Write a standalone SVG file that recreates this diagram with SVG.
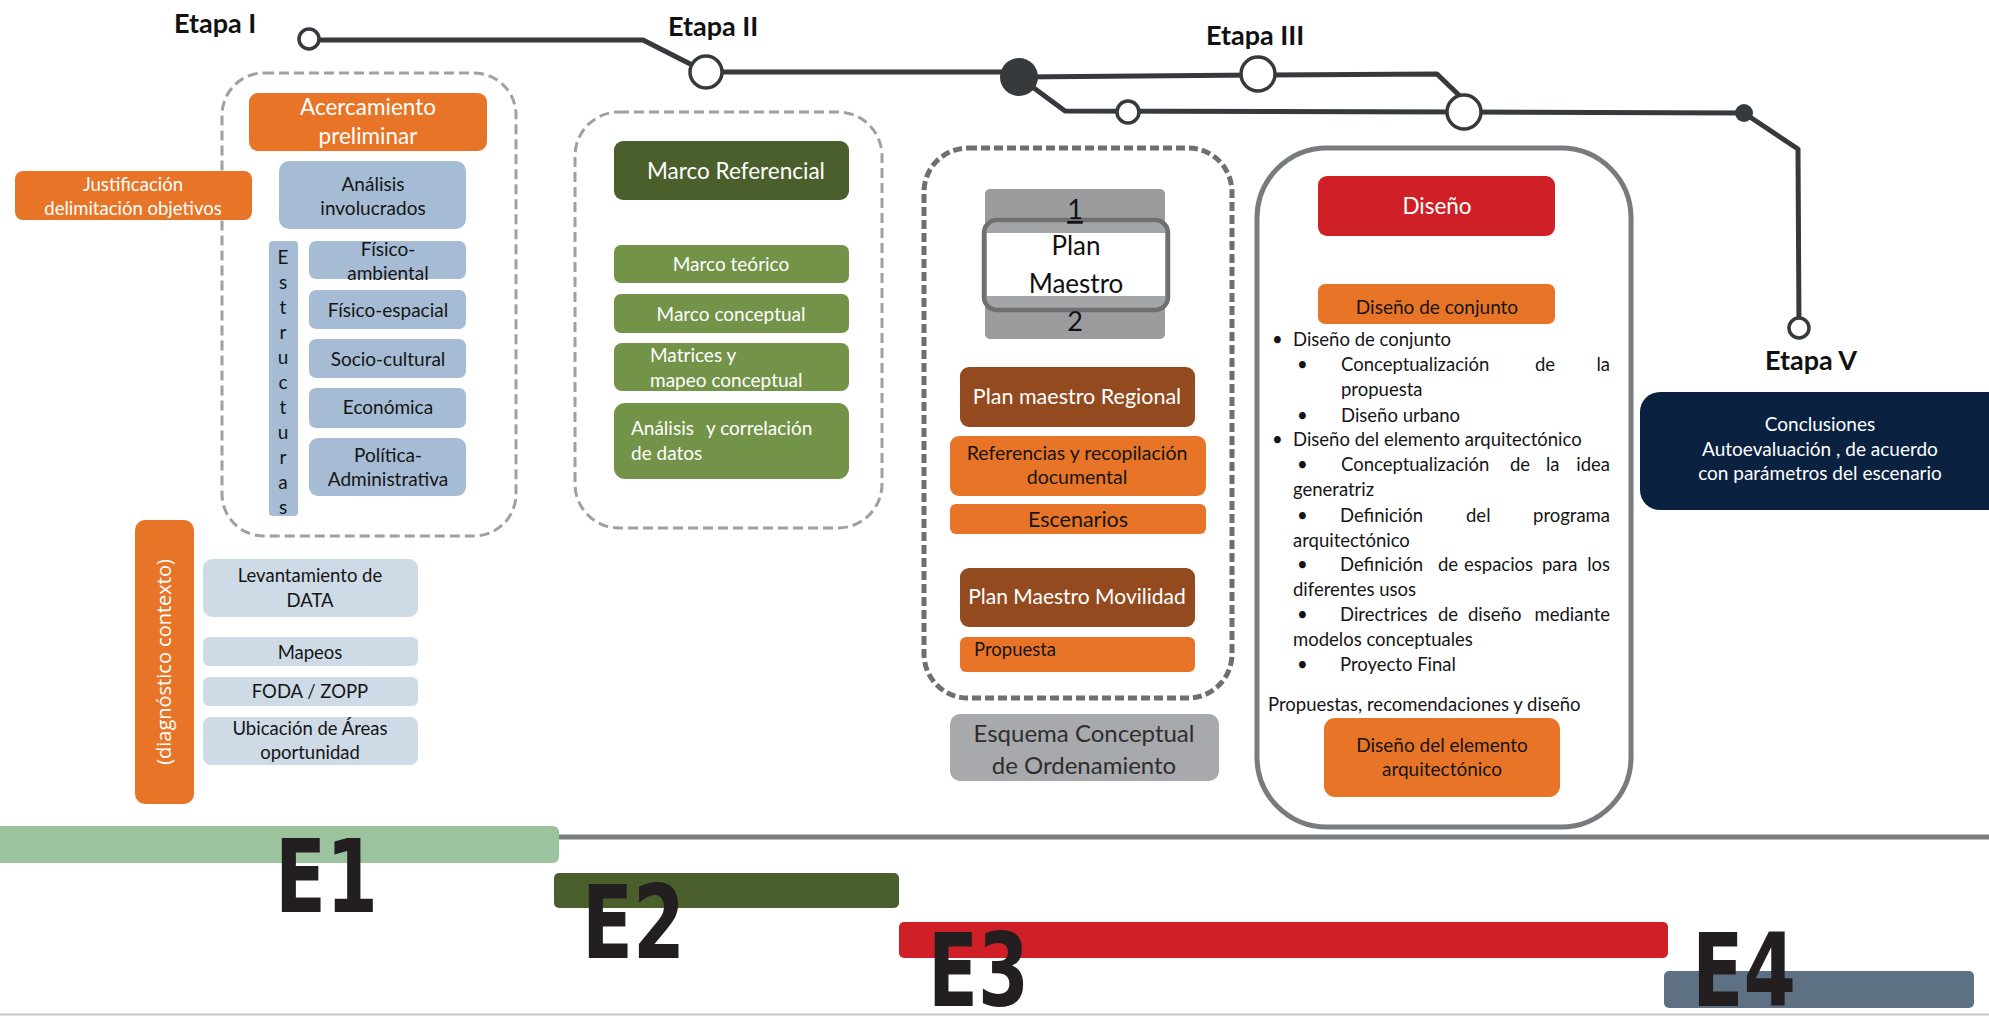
<svg xmlns="http://www.w3.org/2000/svg" width="1989" height="1016" viewBox="0 0 1989 1016">
  <defs>
    <style>
      .t { font-family: Lato, "Liberation Sans", sans-serif; }
      .c { text-anchor: middle; }
      .w { fill: #ffffff; }
      .k { fill: #151515; }
      .s19 { font-size: 19px; }
      .s18 { font-size: 18.5px; }
      .s22 { font-size: 22.5px; }
      .etapa { font-family: Lato, "Liberation Sans", sans-serif; font-weight: 700; font-size: 27px; fill: #111; }
      .big { font-family: "DejaVu Sans", "Liberation Sans", sans-serif; font-weight: 700; font-size: 102px; fill: #231f20; }
      .orange { fill: #e87427; }
      .lblue { fill: #a5bcd4; }
      .pblue { fill: #cedae6; }
      .olive { fill: #739348; }
      .brown { fill: #934a1f; }
      .track { fill: none; stroke: #373a3d; stroke-width: 5; stroke-linejoin: round; stroke-linecap: round; }
      .stop { fill: #ffffff; stroke: #373a3d; stroke-width: 3.5; }
      .hub { fill: #373a3d; }
      .dash { fill: none; stroke: #a0a0a0; stroke-width: 3; stroke-dasharray: 10 5; }
    </style>
  </defs>

  <!-- timeline bars and base rule -->
  <g id="timeline">
    <line x1="555" y1="837" x2="1989" y2="837" stroke="#7a7d80" stroke-width="5"/>
    <line x1="0" y1="1014.5" x2="1989" y2="1014.5" stroke="#c6c6c6" stroke-width="2"/>
    <rect x="-10" y="826" width="569" height="37" rx="6" fill="#9bc49e"/>
    <rect x="554" y="873" width="345" height="35" rx="5" fill="#4b5f2d"/>
    <rect x="899" y="922" width="769" height="36" rx="5" fill="#cf1f27"/>
    <rect x="1664" y="971" width="310" height="37" rx="5" fill="#5e7184"/>
    <text class="big" x="275" y="912" textLength="103" lengthAdjust="spacingAndGlyphs">E1</text>
    <text class="big" x="582" y="958" textLength="103" lengthAdjust="spacingAndGlyphs">E2</text>
    <text class="big" x="928" y="1006" textLength="101" lengthAdjust="spacingAndGlyphs">E3</text>
    <text class="big" x="1692" y="1006" textLength="104" lengthAdjust="spacingAndGlyphs">E4</text>
  </g>

  <!-- stage track -->
  <g id="connectors">
    <path class="track" d="M309 40 L643 40 L706 72 L1019 72"/>
    <path class="track" d="M1019 77 L1258 75 L1437 74 L1464 100"/>
    <path class="track" d="M1019 77 L1065 111 L1464 112 L1744 113 L1798 149 L1799 328"/>
  </g>

  <g id="stops">
    <circle class="stop" cx="309" cy="39" r="10"/>
    <circle class="stop" cx="706" cy="72" r="16"/>
    <circle class="hub" cx="1019" cy="77" r="19"/>
    <circle class="stop" cx="1128" cy="112" r="11"/>
    <circle class="stop" cx="1258" cy="74" r="17"/>
    <circle class="stop" cx="1464" cy="112" r="17"/>
    <circle class="hub" cx="1744" cy="113" r="9"/>
    <circle class="stop" cx="1799" cy="328" r="10"/>
  </g>

  <g id="etapa-labels">
    <text class="etapa" x="174" y="33">Etapa I</text>
    <text class="etapa" x="668" y="36">Etapa II</text>
    <text class="etapa" x="1206" y="45">Etapa III</text>
    <text class="etapa" x="1765" y="370">Etapa V</text>
  </g>

  <!-- Etapa I -->
  <g id="etapa1-frame">
    <rect class="dash" x="222" y="73" width="294" height="463" rx="42"/>
  </g>
  <g id="acercamiento">
    <rect class="orange" x="249" y="93" width="238" height="58" rx="9"/>
    <text class="t c w s22" x="368" y="115">Acercamiento</text>
    <text class="t c w s22" x="368" y="144">preliminar</text>
  </g>
  <g id="justificacion">
    <rect class="orange" x="15" y="171" width="237" height="49" rx="8"/>
    <text class="t c w s18" x="133" y="191">Justificación</text>
    <text class="t c w s18" x="133" y="215">delimitación objetivos</text>
  </g>
  <g id="analisis">
    <rect class="lblue" x="279" y="161" width="187" height="68" rx="10"/>
    <text class="t c k s19" x="373" y="191">Análisis</text>
    <text class="t c k s19" x="373" y="215">involucrados</text>
  </g>
  <g id="estructuras">
    <rect class="lblue" x="269" y="241" width="29" height="275" rx="4"/>
    <text class="t c k s19" x="283" y="264">E</text>
    <text class="t c k s19" x="283" y="289">s</text>
    <text class="t c k s19" x="283" y="314">t</text>
    <text class="t c k s19" x="283" y="339">r</text>
    <text class="t c k s19" x="283" y="364">u</text>
    <text class="t c k s19" x="283" y="389">c</text>
    <text class="t c k s19" x="283" y="414">t</text>
    <text class="t c k s19" x="283" y="439">u</text>
    <text class="t c k s19" x="283" y="464">r</text>
    <text class="t c k s19" x="283" y="489">a</text>
    <text class="t c k s19" x="283" y="514">s</text>
  </g>
  <g id="fisico-ambiental">
    <rect class="lblue" x="309" y="241" width="157" height="38" rx="7"/>
    <text class="t c k s19" x="388" y="256">Físico-</text>
    <text class="t c k s19" x="388" y="280">ambiental</text>
  </g>
  <g id="fisico-espacial">
    <rect class="lblue" x="309" y="290" width="157" height="39" rx="7"/>
    <text class="t c k s19" x="388" y="317">Físico-espacial</text>
  </g>
  <g id="socio-cultural">
    <rect class="lblue" x="309" y="339" width="157" height="39" rx="7"/>
    <text class="t c k s19" x="388" y="366">Socio-cultural</text>
  </g>
  <g id="economica">
    <rect class="lblue" x="309" y="388" width="157" height="40" rx="7"/>
    <text class="t c k s19" x="388" y="414">Económica</text>
  </g>
  <g id="politica">
    <rect class="lblue" x="309" y="438" width="157" height="58" rx="9"/>
    <text class="t c k s19" x="388" y="462">Política-</text>
    <text class="t c k s19" x="388" y="486">Administrativa</text>
  </g>

  <g id="diagnostico">
    <rect class="orange" x="135" y="520" width="59" height="284" rx="10"/>
    <text transform="translate(171 662) rotate(-90)" text-anchor="middle" font-family="'Open Sans', 'Noto Sans', sans-serif" font-size="20" fill="#ffffff">(diagnóstico contexto)</text>
  </g>
  <g id="levantamiento">
    <rect class="pblue" x="203" y="559" width="215" height="58" rx="9"/>
    <text class="t c k s18" x="310" y="582">Levantamiento de</text>
    <text class="t c k s18" x="310" y="607">DATA</text>
  </g>
  <g id="mapeos">
    <rect class="pblue" x="203" y="637" width="215" height="29" rx="6"/>
    <text class="t c k s18" x="310" y="659">Mapeos</text>
  </g>
  <g id="foda">
    <rect class="pblue" x="203" y="677" width="215" height="29" rx="6"/>
    <text class="t c k s18" x="310" y="698">FODA / ZOPP</text>
  </g>
  <g id="ubicacion">
    <rect class="pblue" x="203" y="717" width="215" height="48" rx="8"/>
    <text class="t c k s18" x="310" y="735">Ubicación de Áreas</text>
    <text class="t c k s18" x="310" y="759">oportunidad</text>
  </g>

  <!-- Etapa II -->
  <g id="etapa2-frame">
    <rect class="dash" x="575" y="112" width="307" height="416" rx="44"/>
  </g>
  <g id="marco-referencial">
    <rect x="614" y="141" width="235" height="59" rx="9" fill="#4b5f2d"/>
    <text class="t c w s22" x="736" y="179">Marco Referencial</text>
  </g>
  <g id="marco-teorico">
    <rect class="olive" x="614" y="245" width="235" height="38" rx="7"/>
    <text class="t c w s19" x="731" y="271">Marco teórico</text>
  </g>
  <g id="marco-conceptual">
    <rect class="olive" x="614" y="294" width="235" height="39" rx="7"/>
    <text class="t c w s19" x="731" y="321">Marco conceptual</text>
  </g>
  <g id="matrices">
    <rect class="olive" x="614" y="343" width="235" height="48" rx="8"/>
    <text class="t w s19" x="650" y="362">Matrices y</text>
    <text class="t w s19" x="650" y="387">mapeo conceptual</text>
  </g>
  <g id="analisis-datos">
    <rect class="olive" x="614" y="403" width="235" height="76" rx="11"/>
    <text class="t w s19" x="631" y="435">Análisis</text>
    <text class="t w s19" x="706" y="435">y correlación</text>
    <text class="t w s19" x="631" y="460">de datos</text>
  </g>

  <!-- Plan Maestro block -->
  <g id="etapa3-frame">
    <rect x="924" y="148" width="308" height="550" rx="44" fill="none" stroke="#6f6f6f" stroke-width="5" stroke-dasharray="9 4"/>
  </g>
  <g id="plan-maestro">
    <rect x="985" y="189" width="180" height="150" rx="5" fill="#9a9c9e"/>
    <rect x="984" y="220" width="184" height="90" rx="13" fill="#a3a5a7" stroke="#6d7073" stroke-width="4.5"/>
    <rect x="987" y="233" width="178" height="63" fill="#ffffff"/>
    <text class="t c" x="1075" y="219" fill="#111" font-size="27" text-decoration="underline">1</text>
    <text class="t c" x="1076" y="255" fill="#111" font-size="26">Plan</text>
    <text class="t c" x="1076" y="293" fill="#111" font-size="26">Maestro</text>
    <text class="t c" x="1075" y="331" fill="#111" font-size="27">2</text>
  </g>
  <g id="plan-regional">
    <rect class="brown" x="960" y="367" width="235" height="60" rx="9"/>
    <text class="t c w" x="1077" y="404" font-size="21.5">Plan maestro Regional</text>
  </g>
  <g id="referencias">
    <rect class="orange" x="950" y="436" width="256" height="60" rx="9"/>
    <text class="t c k" x="1077" y="460" font-size="19.5">Referencias y recopilación</text>
    <text class="t c k" x="1077" y="484" font-size="19.5">documental</text>
  </g>
  <g id="escenarios">
    <rect class="orange" x="950" y="504" width="256" height="30" rx="6"/>
    <text class="t c k" x="1078" y="527" font-size="21.5">Escenarios</text>
  </g>
  <g id="plan-movilidad">
    <rect class="brown" x="960" y="568" width="235" height="59" rx="9"/>
    <text class="t c w" x="1077" y="604" font-size="21">Plan Maestro Movilidad</text>
  </g>
  <g id="propuesta">
    <rect class="orange" x="960" y="637" width="235" height="35" rx="6"/>
    <text class="t k s18" x="974" y="656">Propuesta</text>
  </g>
  <g id="esquema">
    <rect x="950" y="714" width="269" height="67" rx="10" fill="#a7a9ac"/>
    <text class="t c" x="1084" y="742" fill="#2e2e2e" font-size="24">Esquema Conceptual</text>
    <text class="t c" x="1084" y="774" fill="#2e2e2e" font-size="24">de Ordenamiento</text>
  </g>

  <!-- Diseño block -->
  <g id="diseno-frame">
    <rect x="1257" y="148" width="374" height="679" rx="70" fill="none" stroke="#797c7f" stroke-width="5"/>
  </g>
  <g id="diseno">
    <rect x="1318" y="176" width="237" height="60" rx="9" fill="#cf1f27"/>
    <text class="t c w s22" x="1437" y="214">Diseño</text>
  </g>
  <g id="diseno-conjunto">
    <rect class="orange" x="1318" y="284" width="237" height="40" rx="7"/>
    <text class="t c k" x="1437" y="314" font-size="19">Diseño de conjunto</text>
  </g>
  <g id="diseno-lista" class="t k s18">
    <text x="1272" y="346">•</text>
    <text x="1293" y="346">Diseño de conjunto</text>
    <text x="1297" y="371">•</text>
    <text x="1341" y="371">Conceptualización</text>
    <text x="1535" y="371">de</text>
    <text x="1610" y="371" text-anchor="end">la</text>
    <text x="1341" y="396">propuesta</text>
    <text x="1297" y="422">•</text>
    <text x="1341" y="422">Diseño urbano</text>
    <text x="1272" y="446">•</text>
    <text x="1293" y="446">Diseño del elemento arquitectónico</text>
    <text x="1297" y="471">•</text>
    <text x="1341" y="471">Conceptualización</text>
    <text x="1510" y="471">de</text>
    <text x="1546" y="471">la</text>
    <text x="1610" y="471" text-anchor="end">idea</text>
    <text x="1293" y="496">generatriz</text>
    <text x="1297" y="522">•</text>
    <text x="1340" y="522">Definición</text>
    <text x="1466" y="522">del</text>
    <text x="1610" y="522" text-anchor="end">programa</text>
    <text x="1293" y="547">arquitectónico</text>
    <text x="1297" y="571">•</text>
    <text x="1340" y="571">Definición</text>
    <text x="1438" y="571">de</text>
    <text x="1464" y="571">espacios</text>
    <text x="1542" y="571">para</text>
    <text x="1610" y="571" text-anchor="end">los</text>
    <text x="1293" y="596">diferentes usos</text>
    <text x="1297" y="621">•</text>
    <text x="1340" y="621">Directrices</text>
    <text x="1438" y="621">de</text>
    <text x="1468" y="621">diseño</text>
    <text x="1610" y="621" text-anchor="end">mediante</text>
    <text x="1293" y="646">modelos conceptuales</text>
    <text x="1297" y="671">•</text>
    <text x="1340" y="671">Proyecto Final</text>
    <text x="1268" y="711">Propuestas, recomendaciones y diseño</text>
  </g>
  <g id="diseno-elemento">
    <rect class="orange" x="1324" y="718" width="236" height="79" rx="11"/>
    <text class="t c k s19" x="1442" y="752">Diseño del elemento</text>
    <text class="t c k s19" x="1442" y="776">arquitectónico</text>
  </g>

  <!-- Etapa V -->
  <g id="conclusiones">
    <rect x="1640" y="392" width="370" height="118" rx="20" fill="#0a2240"/>
    <text class="t c w s19" x="1820" y="431">Conclusiones</text>
    <text class="t c w s19" x="1820" y="456">Autoevaluación , de acuerdo</text>
    <text class="t c w s19" x="1820" y="480">con parámetros del escenario</text>
  </g>
</svg>
